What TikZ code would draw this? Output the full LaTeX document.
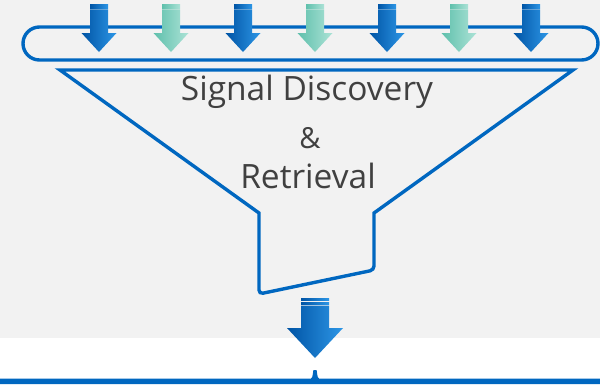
\documentclass[tikz,border=0pt]{standalone}
\usepackage{fontspec}
\setmainfont{Open Sans}
\definecolor{bggray}{RGB}{242,242,242}
\definecolor{linkblue}{RGB}{0,103,192}
\definecolor{txtgray}{RGB}{64,64,64}
\definecolor{bluedark}{RGB}{0,84,165}
\definecolor{bluelight}{RGB}{45,150,230}
\definecolor{tealdark}{RGB}{95,192,172}
\definecolor{teallight}{RGB}{172,226,214}

\begin{document}
\begin{tikzpicture}[x=1pt,y=-1pt]
\tikzstyle{every node}=[text=txtgray, inner sep=0pt, anchor=base]
\tikzstyle{outline}=[draw=linkblue, line width=3.4pt]
\fill[bggray] (0,0) rectangle (600,338);
\useasboundingbox (0,0) rectangle (600,384);
\draw[outline, rounded corners=16.5pt] (23,27) rectangle (598,60);
\draw[outline] (60,70) -- (573,70) -- (374,213) [rounded corners=4pt] -- (374,270) -- (259,294) [sharp corners] -- (259,213) -- cycle;
\node (sig) at (307,100) [font=\fontsize{33.5}{38}\selectfont] {Signal Discovery};
\node (amp) at (310,148) [font=\fontsize{29}{34}\selectfont] {\&};
\node (ret) at (308,188) [font=\fontsize{33.5}{38}\selectfont] {Retrieval};
\foreach \x/\l/\r in {99/bluedark/bluelight,171/tealdark/teallight,243/bluedark/bluelight,315/tealdark/teallight,387/bluedark/bluelight,459/tealdark/teallight,531/bluedark/bluelight} {
  \shade[left color=\l, right color=\r] (\x-9,4) rectangle (\x+9,5.7);
  \shade[left color=\l, right color=\r] (\x-9,6.8) rectangle (\x+9,8.4);
  \shade[left color=\l, right color=\r] (\x-9,9.4) -- (\x+9,9.4) -- (\x+9,33) -- (\x+17.5,33) -- (\x,52) -- (\x-17.5,33) -- (\x-9,33) -- cycle;
}
\shade[left color=bluedark, right color=bluelight] (301,298) rectangle (329,300.5);
\shade[left color=bluedark, right color=bluelight] (301,302) rectangle (329,304);
\shade[left color=bluedark, right color=bluelight] (301,305.5) -- (329,305.5) -- (329,328) -- (343,328) -- (315,358) -- (287,328) -- (301,328) -- cycle;
\fill[linkblue] (0,378.5) -- (311,378.5) .. controls (313,378.5) and (313,370) .. (313.5,370) -- (316.5,370) .. controls (317,370) and (317,378.5) .. (319,378.5) -- (600,378.5) -- (600,384) -- (0,384) -- cycle;
\end{tikzpicture}
\end{document}
